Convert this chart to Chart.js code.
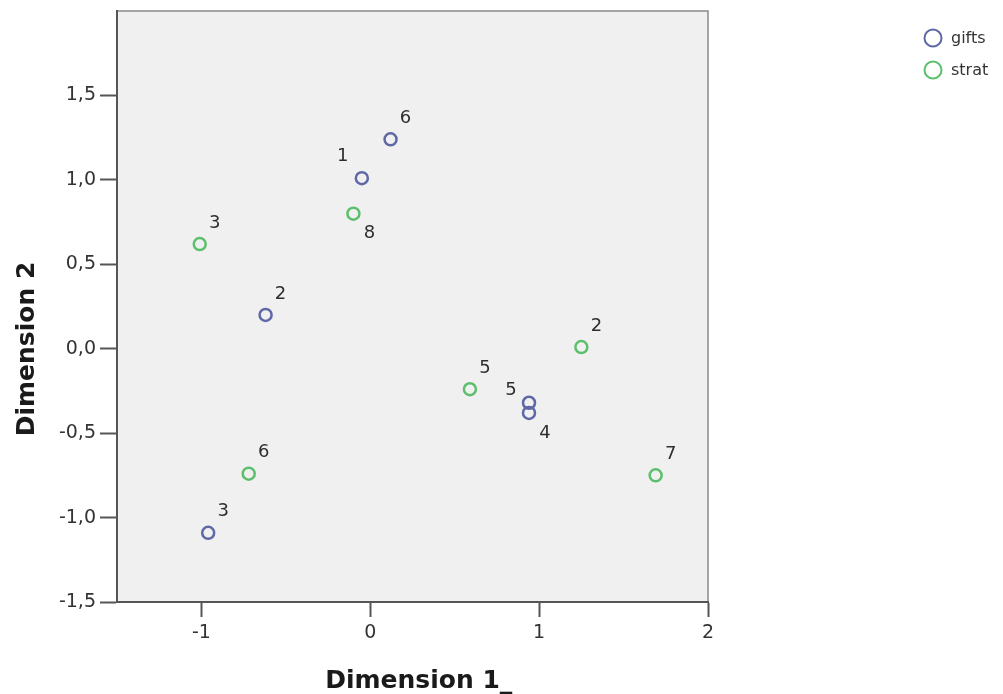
<!DOCTYPE html>
<html>
<head>
<meta charset="utf-8">
<script src="https://cdn.jsdelivr.net/npm/chart.js@4.4.1/dist/chart.umd.min.js"></script>
<style>
  html, body { margin: 0; padding: 0; background: #ffffff; }
  #wrap { width: 1003px; height: 694px; }
</style>
</head>
<body>
<div id="wrap"><canvas id="c" width="1003" height="694"></canvas></div>
<script>
// Category point coordinates (Dimension 1, Dimension 2)
const giftsLabels = ['1', '2', '3', '4', '5', '6'];
const giftsX = [-0.05, -0.62, -0.96, 0.94, 0.94, 0.12];
const giftsY = [1.01, 0.20, -1.09, -0.38, -0.32, 1.24];

const stratLabels = ['2', '3', '5', '6', '7', '8'];
const stratX = [1.25, -1.01, 0.59, -0.72, 1.69, -0.10];
const stratY = [0.01, 0.62, -0.24, -0.74, -0.75, 0.80];

// Tick values
const xTicks = [-1, 0, 1, 2];
const yTicks = [-1.5, -1.0, -0.5, 0.0, 0.5, 1.0, 1.5];

// Where each point label sits relative to its marker
const giftsPlace = ['nw', 'ne', 'ne', 'se', 'w', 'ne'];
const stratPlace = ['ne', 'ne', 'ne', 'ne', 'ne', 'se'];

const BLUE = '#5f68a6';
const GREEN = '#5cbf6c';

function toPoints(xs, ys) {
  return xs.map((x, i) => ({ x: x, y: ys[i] }));
}

const placeOffset = {
  ne: [15, -21],
  nw: [-19, -22],
  se: [16, 20],
  w:  [-18, -12]
};

// Grey plot panel with frame
const panelPlugin = {
  id: 'panel',
  beforeDraw(chart) {
    const { ctx, chartArea: a } = chart;
    ctx.save();
    ctx.fillStyle = '#f0f0f0';
    ctx.fillRect(a.left, a.top, a.right - a.left, a.bottom - a.top);
    ctx.strokeStyle = '#8a8a8a';
    ctx.lineWidth = 1.5;
    ctx.strokeRect(a.left, a.top, a.right - a.left, a.bottom - a.top);
    ctx.restore();
  }
};

// Point labels, axis titles and legend
const labelPlugin = {
  id: 'labels',
  afterDraw(chart) {
    const ctx = chart.ctx;
    ctx.save();
    // point labels
    ctx.font = '18px "DejaVu Sans"';
    ctx.fillStyle = '#2e2e2e';
    ctx.textAlign = 'center';
    ctx.textBaseline = 'middle';
    chart.data.datasets.forEach((ds, di) => {
      const meta = chart.getDatasetMeta(di);
      meta.data.forEach((pt, i) => {
        const off = placeOffset[ds.places[i]];
        ctx.fillText(ds.names[i], pt.x + off[0], pt.y + off[1]);
      });
    });

    // axis titles
    const a = chart.chartArea;
    ctx.fillStyle = '#1a1a1a';
    ctx.font = 'bold 25px "DejaVu Sans"';
    ctx.textBaseline = 'alphabetic';
    ctx.textAlign = 'center';
    const t1 = 'Dimension 1';
    const cx = (a.left + a.right) / 2;
    ctx.fillText(t1, cx, 688);
    const w1 = ctx.measureText(t1).width;
    ctx.textAlign = 'left';
    ctx.fillText('_', cx + w1 / 2, 688);

    ctx.save();
    ctx.translate(34, 349);
    ctx.rotate(-Math.PI / 2);
    ctx.textAlign = 'center';
    ctx.fillText('Dimension 2', 0, 0);
    ctx.restore();

    // legend
    ctx.font = '16px "DejaVu Sans"';
    ctx.textAlign = 'left';
    ctx.textBaseline = 'middle';
    chart.data.datasets.forEach((ds, di) => {
      const y = 38 + di * 32;
      ctx.beginPath();
      ctx.arc(933, y, 8.5, 0, Math.PI * 2);
      ctx.strokeStyle = ds.borderColor;
      ctx.lineWidth = 2;
      ctx.stroke();
      ctx.fillStyle = '#333333';
      ctx.fillText(ds.label, 951, y + 1);
    });
    ctx.restore();
  }
};

new Chart(document.getElementById('c'), {
  type: 'scatter',
  data: {
    datasets: [
      {
        label: 'gifts',
        names: giftsLabels,
        places: giftsPlace,
        data: toPoints(giftsX, giftsY),
        borderColor: BLUE,
        backgroundColor: 'rgba(0,0,0,0)',
        pointRadius: 6,
        pointBorderWidth: 2.5,
        pointHoverRadius: 6
      },
      {
        label: 'strat',
        names: stratLabels,
        places: stratPlace,
        data: toPoints(stratX, stratY),
        borderColor: GREEN,
        backgroundColor: 'rgba(0,0,0,0)',
        pointRadius: 6,
        pointBorderWidth: 2.5,
        pointHoverRadius: 6
      }
    ]
  },
  options: {
    responsive: false,
    animation: false,
    events: [],
    layout: { padding: { top: 11, right: 295, left: 0, bottom: 0 } },
    plugins: {
      legend: { display: false },
      tooltip: { enabled: false }
    },
    scales: {
      x: {
        type: 'linear',
        min: -1.5,
        max: 2.0,
        afterBuildTicks(s) { s.ticks = xTicks.map(v => ({ value: v })); },
        afterFit(s) { s.height = 92; s.paddingLeft = 0; s.paddingRight = 0; },
        grid: {
          drawOnChartArea: false,
          drawTicks: true,
          tickLength: 15,
          tickColor: '#555555',
          tickWidth: 2
        },
        border: { display: true, color: '#555555', width: 2 },
        ticks: {
          padding: 5,
          color: '#333333',
          font: { family: '"DejaVu Sans"', size: 19 },
          maxRotation: 0,
          callback: v => String(v)
        }
      },
      y: {
        type: 'linear',
        min: -1.5,
        max: 2.0,
        afterBuildTicks(s) { s.ticks = yTicks.map(v => ({ value: v })); },
        afterFit(s) { s.width = 117; s.paddingTop = 0; s.paddingBottom = 0; },
        grid: {
          drawOnChartArea: false,
          drawTicks: true,
          tickLength: 17,
          tickColor: '#555555',
          tickWidth: 2
        },
        border: { display: true, color: '#555555', width: 2 },
        ticks: {
          padding: 4,
          color: '#333333',
          font: { family: '"DejaVu Sans"', size: 19 },
          callback: v => Number(v).toFixed(1).replace('.', ',')
        }
      }
    }
  },
  plugins: [panelPlugin, labelPlugin]
});
</script>
</body>
</html>
